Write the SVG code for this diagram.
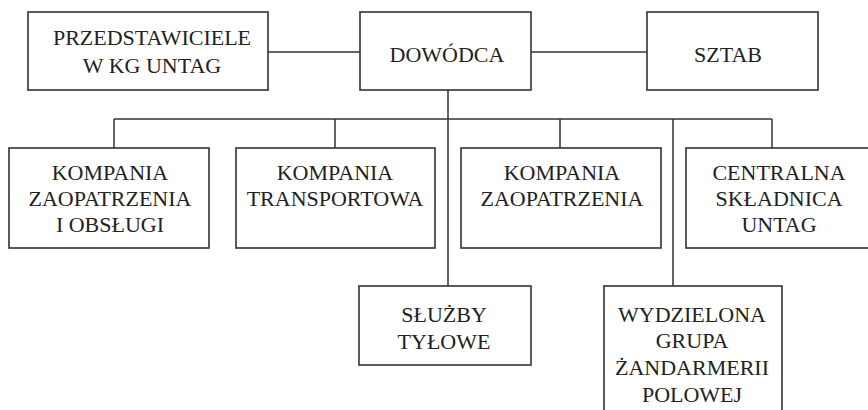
<svg xmlns="http://www.w3.org/2000/svg" width="868" height="410" viewBox="0 0 868 410">
<style>
.box{fill:#fff;stroke:#333;stroke-width:1.6}
.ln{stroke:#333;stroke-width:1.5;fill:none}
text{font-family:"Liberation Serif","Times New Roman",serif;font-size:22px;fill:#222;text-anchor:middle}
</style>
<rect width="868" height="410" fill="#fff"/>
<g id="connectors">
<line class="ln" x1="268" y1="52" x2="360" y2="52"/>
<line class="ln" x1="531" y1="52" x2="647" y2="52"/>
<line class="ln" x1="448" y1="90" x2="448" y2="286"/>
<line class="ln" x1="114" y1="119" x2="772" y2="119"/>
<line class="ln" x1="114" y1="119" x2="114" y2="148"/>
<line class="ln" x1="335" y1="119" x2="335" y2="148"/>
<line class="ln" x1="560" y1="119" x2="560" y2="148"/>
<line class="ln" x1="772" y1="119" x2="772" y2="148"/>
<line class="ln" x1="673" y1="119" x2="673" y2="286"/>
</g>
<g id="przedstawiciele">
<rect class="box" x="28" y="12" width="240" height="78"/>
<text x="152" y="45">PRZEDSTAWICIELE</text>
<text x="152" y="73">W KG UNTAG</text>
</g>
<g id="dowodca">
<rect class="box" x="360" y="12" width="171" height="78"/>
<text x="447" y="62">DOWÓDCA</text>
</g>
<g id="sztab">
<rect class="box" x="647" y="12" width="171" height="78"/>
<text x="728" y="62">SZTAB</text>
</g>
<g id="kompania-zaop-obsl">
<rect class="box" x="9" y="148" width="200" height="100"/>
<text x="110" y="180">KOMPANIA</text>
<text x="110" y="206">ZAOPATRZENIA</text>
<text x="110" y="232">I OBSŁUGI</text>
</g>
<g id="kompania-transportowa">
<rect class="box" x="236" y="148" width="199" height="100"/>
<text x="335" y="180">KOMPANIA</text>
<text x="335" y="206">TRANSPORTOWA</text>
</g>
<g id="kompania-zaopatrzenia">
<rect class="box" x="461" y="148" width="200" height="100"/>
<text x="562" y="180">KOMPANIA</text>
<text x="562" y="206">ZAOPATRZENIA</text>
</g>
<g id="centralna-skladnica">
<rect class="box" x="686" y="148" width="186" height="100"/>
<text x="779" y="180">CENTRALNA</text>
<text x="779" y="206">SKŁADNICA</text>
<text x="779" y="232">UNTAG</text>
</g>
<g id="sluzby-tylowe">
<rect class="box" x="359" y="286" width="172" height="79"/>
<text x="444" y="322">SŁUŻBY</text>
<text x="444" y="349">TYŁOWE</text>
</g>
<g id="wydzielona-grupa">
<rect class="box" x="604" y="286" width="178" height="140"/>
<text x="692" y="322">WYDZIELONA</text>
<text x="692" y="348">GRUPA</text>
<text x="692" y="375">ŻANDARMERII</text>
<text x="692" y="402">POLOWEJ</text>
</g>
</svg>
